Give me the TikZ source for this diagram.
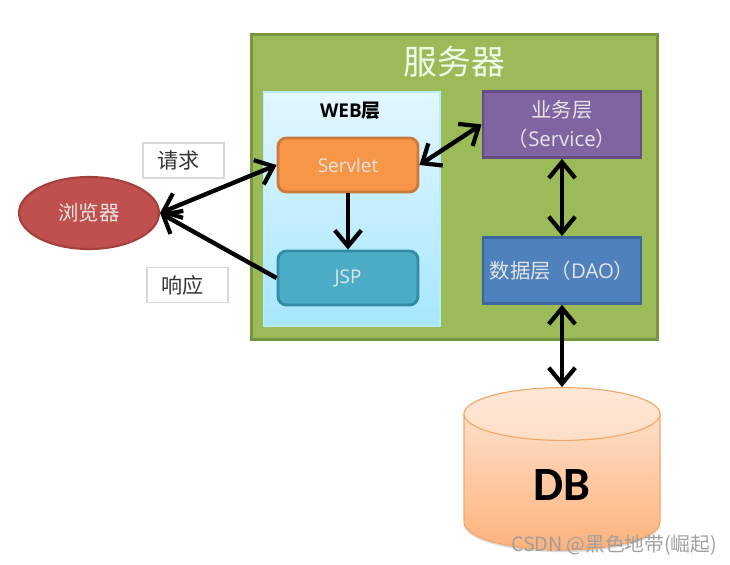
\documentclass[tikz,border=0pt]{standalone}
\usepackage{fontspec}
\setmainfont{Noto Sans CJK SC}
\newfontfamily\latinfont{Open Sans}
\newfontfamily\dbfont{Carlito}
\usetikzlibrary{shapes.geometric, arrows.meta, shadows}
\definecolor{servergreen}{HTML}{9BBB59}
\definecolor{serverline}{HTML}{76963F}
\definecolor{webtop}{HTML}{E3F7FF}
\definecolor{webbottom}{HTML}{A6E6FF}
\definecolor{servletfill}{HTML}{F79646}
\definecolor{servletline}{HTML}{C97A3A}
\definecolor{jspfill}{HTML}{4BACC6}
\definecolor{jspline}{HTML}{338BA3}
\definecolor{servicefill}{HTML}{8064A2}
\definecolor{serviceline}{HTML}{664C85}
\definecolor{daofill}{HTML}{4F81BD}
\definecolor{daoline}{HTML}{3C669B}
\definecolor{browserfill}{HTML}{C0504D}
\definecolor{browserline}{HTML}{A53F3C}
\definecolor{dbline}{HTML}{F2A766}
\definecolor{dbtopcolor}{HTML}{FEDFC8}
\definecolor{dbbottomcolor}{HTML}{FDB27C}
\tikzset{
  layerbox/.style={
    draw, rectangle, line width=2pt, align=center, text=white!90!black,
    minimum width=3.95cm, minimum height=1.65cm,
    font=\fontsize{14.5}{20}\selectfont
  },
  webbox/.style={
    draw, rounded corners=6pt, line width=2pt, align=center, text=white!90!black,
    minimum width=3.5cm, minimum height=1.35cm,
    font=\fontsize{13.5}{17}\selectfont
  },
  notebox/.style={
    draw=gray!30, line width=1pt, fill=white, text=black!80, align=left,
    inner xsep=0.35cm, text width=1.325cm, minimum height=0.87cm,
    font=\fontsize{15}{17}\selectfont
  },
  flowarrow/.style={
    {Straight Barb[length=4mm,width=6.6mm,line width=3pt]}-{Straight Barb[length=4mm,width=6.6mm,line width=3pt]},
    line width=3.1pt, black
  },
  onearrow/.style={
    -{Straight Barb[length=4mm,width=6.6mm,line width=3pt]},
    line width=3.1pt, black
  },
}

\begin{document}
\begin{tikzpicture}
  \useasboundingbox (0,0) rectangle (18.25,14.1);

  % --- Server ---
  \node[draw=serverline, fill=servergreen, line width=2pt, minimum width=10.15cm,
    minimum height=7.62cm, drop shadow={opacity=0.2, shadow xshift=0.3pt, shadow yshift=-0.5pt}]
    (server) at (11.36,9.425) {};
  \node[text=white!92!green, font=\fontsize{24}{28}\selectfont] (servertitle) at (11.36,12.55) {服务器};

  % --- WEB layer ---
  \node[draw=webbottom!80!white, line width=0.8pt, top color=webtop, bottom color=webbottom,
    minimum width=4.42cm, minimum height=5.85cm,
    drop shadow={opacity=0.25, shadow xshift=0.5pt, shadow yshift=-1pt}]
    (web) at (8.79,8.875) {};
  \node[font=\fontsize{13.5}{15}\selectfont\bfseries] (webtitle) at (8.76,11.32) {{\latinfont WEB}层};
  \node[webbox, draw=servletline, fill=servletfill] (servlet) at (8.7,9.975) {\latinfont Servlet};
  \node[webbox, draw=jspline, fill=jspfill] (jsp) at (8.7,7.15) {\latinfont JSP};

  % Service and DAO
  \node[layerbox, draw=serviceline, fill=servicefill] (service) at (14.05,10.99)
    {业务层\\（{\latinfont Service}）};
  \node[layerbox, draw=daoline, fill=daofill] (dao) at (14.05,7.34)
    {数据层（{\latinfont DAO}）};

  % --- Browser ---
  \node[ellipse, draw=browserline, fill=browserfill, line width=1.5pt, text=white!90!black,
    minimum width=3.5cm, minimum height=1.8cm, font=\fontsize{14.5}{17}\selectfont]
    (browser) at (2.225,8.775) {浏览器};
  \node[notebox] (request) at (4.59,10.09) {请求};
  \node[notebox] (response) at (4.69,6.975) {响应};

  % --- Database ---
  \coordinate (dbwest) at (11.6,3.75);
  \coordinate (dbeast) at (16.5,3.75);
  \path[draw=dbline, line width=0.8pt, top color=dbtopcolor, bottom color=dbbottomcolor,
    drop shadow={opacity=0.3, shadow xshift=0pt, shadow yshift=-1.5pt}]
    (dbwest) -- ++(0,-2.7) arc[start angle=180, end angle=360, x radius=2.45cm, y radius=0.7cm]
    -- (dbeast) -- cycle;
  \node[ellipse, draw=dbline, line width=0.8pt, top color=dbtopcolor!75!white, bottom color=dbtopcolor,
    minimum width=4.9cm, minimum height=1.32cm] (dbtop) at (14.05,3.75) {};
  \node[font=\dbfont\bfseries\fontsize{34}{38}\selectfont] (dblabel) at (14.05,1.97) {DB};

  % Connections
  \draw[flowarrow] (browser.east) -- (servlet.west);
  \draw[onearrow] (jsp.west) -- (browser.east);
  \draw[onearrow] (servlet.south) -- (jsp.north);
  \draw[flowarrow] (servlet.east) -- (service.west);
  \draw[flowarrow] (service.south) -- (dao.north);
  \draw[flowarrow] (dao.south) -- (dbtop.north);

  \node[text=gray!75, font=\fontsize{14}{16}\selectfont] (mark) at (15.35,0.47) {CSDN @黑色地带(崛起)};
\end{tikzpicture}
\end{document}
